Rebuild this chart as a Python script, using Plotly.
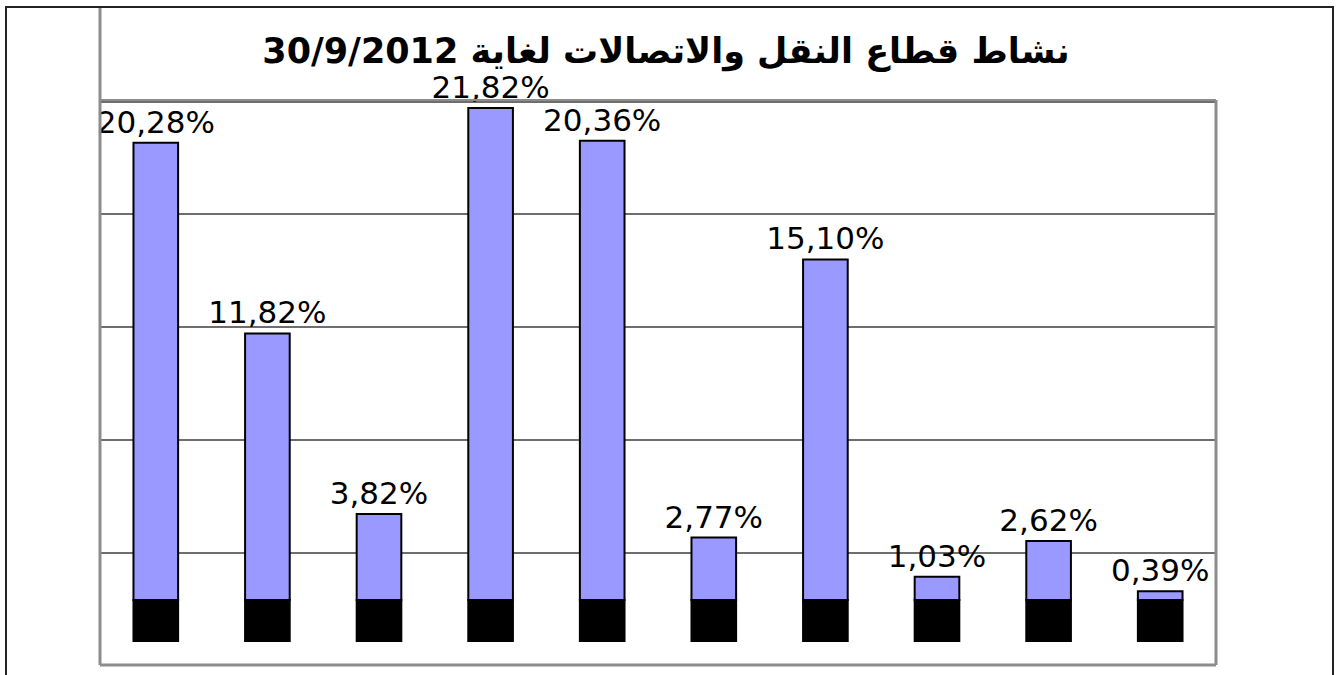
import plotly.graph_objects as go

# data (percentages)
categories = list(range(1, 11))
shares = [20.28, 11.82, 3.82, 21.82, 20.36, 2.77, 15.10, 1.03, 2.62, 0.39]
labels = [f"{v:.2f}%".replace(".", ",") for v in shares]

title_text = "نشاط قطاع النقل والاتصالات لغاية 30/9/2012"

# layout constants (pixels)
W, H = 1340, 675
L, R, T, B = 100, 124, 100, 10
PW, PH = W - L - R, H - T - B
FLOOR = 1.82          # depth of the black "3D floor" under each bar
BLUE = "#9999FF"
GRAY = "#8c8c8c"


def px_x(x):
    return (x - L) / PW


def px_y(y):
    return (H - B - y) / PH


fig = go.Figure()

# black floor block under every bar
fig.add_trace(go.Bar(
    x=categories,
    y=[FLOOR] * len(categories),
    base=-FLOOR,
    width=0.4,
    marker=dict(color="black", line=dict(color="black", width=2)),
    hoverinfo="skip",
    showlegend=False,
))

fig.add_trace(go.Bar(
    x=categories,
    y=shares,
    width=0.4,
    marker=dict(color=BLUE, line=dict(color="black", width=2)),
    text=labels,
    textposition="outside",
    constraintext="none",
    cliponaxis=False,
    textfont=dict(family="DejaVu Sans", size=31, color="black"),
    showlegend=False,
))

shapes = [
    # outer frame
    dict(type="rect", xref="paper", yref="paper",
         x0=px_x(6), x1=px_x(1333), y0=px_y(700), y1=px_y(7),
         line=dict(color="#222", width=2)),
    # back wall / plot box
    dict(type="line", xref="paper", yref="paper",
         x0=px_x(100), x1=px_x(100), y0=px_y(665), y1=px_y(8),
         line=dict(color=GRAY, width=3)),
    dict(type="line", xref="paper", yref="paper",
         x0=px_x(100), x1=px_x(1216), y0=px_y(665), y1=px_y(665),
         line=dict(color=GRAY, width=3)),
    dict(type="line", xref="paper", yref="paper",
         x0=px_x(1216), x1=px_x(1216), y0=px_y(665), y1=px_y(100),
         line=dict(color=GRAY, width=3)),
    dict(type="line", xref="paper", yref="paper",
         x0=px_x(100), x1=px_x(1216), y0=px_y(100), y1=px_y(100),
         line=dict(color=GRAY, width=2)),
]

fig.update_layout(
    width=W,
    height=H,
    margin=dict(l=L, r=R, t=T, b=B),
    paper_bgcolor="white",
    plot_bgcolor="white",
    bargap=0.6,
    barmode="overlay",
    shapes=shapes,
    title=dict(
        text=title_text,
        x=0.497,
        xanchor="center",
        y=0.925,
        yanchor="middle",
        font=dict(family="DejaVu Sans", size=35, color="black", weight="bold"),
    ),
    xaxis=dict(
        range=[0.5, 10.5],
        showticklabels=False,
        showgrid=False,
        zeroline=False,
        showline=False,
    ),
    yaxis=dict(
        range=[-2.88, 22.17],
        tick0=2.1,
        dtick=5,
        showticklabels=False,
        showgrid=True,
        gridcolor="#6e6e6e",
        gridwidth=2,
        zeroline=False,
        showline=False,
    ),
)

# drop the default 8px page margin so the figure sits at the window origin
fig.write_html(
    "out.html",
    config={"displayModeBar": False},
    post_script="document.body.style.margin='0';",
)
